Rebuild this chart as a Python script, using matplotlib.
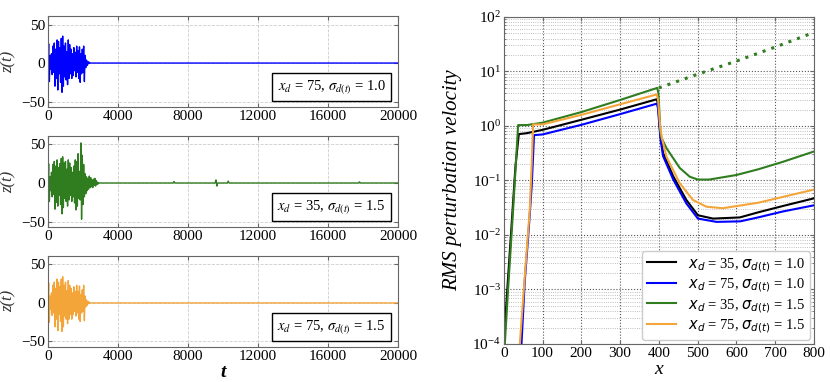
import numpy as np
import matplotlib
matplotlib.use("Agg")
import matplotlib.pyplot as plt
from matplotlib.ticker import LogLocator, NullFormatter

plt.rcParams["font.family"] = ["Liberation Serif", "DejaVu Serif"]
plt.rcParams["mathtext.fontset"] = "stix"
plt.rcParams["xtick.direction"] = "in"
plt.rcParams["ytick.direction"] = "in"
plt.rcParams["xtick.top"] = True
plt.rcParams["ytick.right"] = True

# time series, sampled every 40 time units from t = 0
dt = 40
blue_z = [0, 25, -24, 10, -8, 12, -15, 22, -12, 26, -30, 18, -20, 30, -35, 28,
          -14, 20, -25, 32, -38, 35, -30, 22, -18, 26, -22, 15, -28, 30, -20, 24,
          -14, 18, -20, 12, -16, 20, -10, 14, -18, 22, -12, 16, -20, 21, -25, 12,
          -14, 18, -12, 22, -24, 10, -6, 4, -3, 2, -1, 1, 0, 0]
green_z = [0, 25, -24, 8, -10, 14, -18, 24, -15, 28, -34, 22, -25, 30, -30, 20,
           -16, 25, -28, 32, -40, 34, -32, 26, -20, 28, -24, 18, -30, 30, -22, 26,
           -16, 20, -24, 14, -18, 22, -26, 30, -35, 28, -30, 38, -20, 15, -22, 52,
           -47, 36, -28, 24, -18, 12, -14, 8, -10, 6, -8, 9, -6, 7, -5, 4,
           -6, 5, -3, 6, -4, 3, -2, 1, -1, 0]
orange_z = [0, 26, -25, 9, -8, 13, -16, 23, -13, 27, -31, 19, -21, 31, -36, 27,
            -15, 21, -24, 31, -37, 34, -31, 23, -17, 27, -21, 16, -27, 29, -21, 23,
            -15, 19, -21, 13, -15, 21, -11, 15, -17, 23, -13, 15, -21, 22, -24, 11,
            -13, 17, -11, 23, -23, 9, -5, 4, -3, 2, -1, 1, 0, 0]
# small late blips in the green trace
green_blip_t = [7150, 7200, 7250, 9550, 9600, 9650, 9700, 10250, 10300, 10350, 17750, 17800, 17850]
green_blip_z = [0, 2, 0, 0, 4, -4, 0, 0, 2.5, 0, 0, 1.5, 0]
t_end = 20000

panel_labels = [r"$x_d$ = 75, $\sigma_{d(t)}$ = 1.0",
                r"$x_d$ = 35, $\sigma_{d(t)}$ = 1.5",
                r"$x_d$ = 75, $\sigma_{d(t)}$ = 1.5"]

# RMS curves (x, value)
black_x = [0, 10, 20, 30, 38.7, 60, 100, 200, 300, 395, 398, 404, 411, 437, 471, 501, 540, 609, 656, 720, 800]
black_y = [1e-4, 1.3e-3, 1.5e-2, 1.8e-1, 0.71, 0.74, 0.85, 1.3, 2.0, 3.1, 2.5, 0.7, 0.32, 0.12, 0.044, 0.023, 0.020, 0.021, 0.026, 0.034, 0.047]
blue_x = [45.6, 54, 64, 72, 78, 100, 200, 300, 395, 398, 404, 411, 437, 471, 501, 549, 610, 656, 720, 800]
blue_y = [1e-4, 1.4e-3, 1.2e-2, 8e-2, 0.68, 0.7, 1.05, 1.65, 2.57, 2.1, 0.6, 0.28, 0.105, 0.038, 0.02, 0.0174, 0.0178, 0.021, 0.027, 0.035]
green_x = [2.6, 11, 24, 37, 60, 100, 200, 300, 396, 399, 404, 407, 420, 454, 480, 501, 530, 600, 656, 720, 800]
green_y = [1e-4, 1e-3, 2.9e-2, 1.04, 1.04, 1.15, 1.8, 3.0, 5.0, 4.0, 0.8, 0.6, 0.39, 0.17, 0.117, 0.104, 0.104, 0.126, 0.16, 0.22, 0.34]
green_dot_x = [400, 500, 600, 700, 800]
green_dot_y = [5.0, 8.9, 15.5, 28.0, 52.0]
orange_x = [41.3, 54, 67, 72, 75.7, 100, 200, 300, 395, 398, 404, 408, 420, 454, 488, 523, 565, 656, 720, 800]
orange_y = [1e-4, 1.7e-3, 2.9e-2, 0.2, 1.07, 1.07, 1.6, 2.5, 3.8, 3.0, 0.9, 0.6, 0.27, 0.089, 0.044, 0.033, 0.031, 0.039, 0.05, 0.068]
legend_labels = [r"$x_d$ = 35, $\sigma_{d(t)}$ = 1.0",
                 r"$x_d$ = 75, $\sigma_{d(t)}$ = 1.0",
                 r"$x_d$ = 35, $\sigma_{d(t)}$ = 1.5",
                 r"$x_d$ = 75, $\sigma_{d(t)}$ = 1.5"]

c_blue = "#0000ff"
c_green = "#2f7d1f"
c_orange = "#f4a53a"
c_black = "#000000"
spine_c = "#666666"

fig = plt.figure(figsize=(8.3, 3.82), dpi=100)

series = [(blue_z, c_blue), (green_z, c_green), (orange_z, c_orange)]
bottoms = [0.720, 0.406, 0.092]
for i, ((zs, col), b) in enumerate(zip(series, bottoms)):
    ax = fig.add_axes([0.0578, b, 0.4217, 0.238])
    ts = [k * dt for k in range(len(zs))] + [t_end]
    zz = list(zs) + [0]
    if i == 1:
        pts = sorted(zip(ts + green_blip_t, zz + green_blip_z))
        ts = [p[0] for p in pts]
        zz = [p[1] for p in pts]
    ax.plot(ts, zz, color=col, lw=1.0)
    ax.set_xlim(0, 20000)
    ax.set_ylim(-57, 61)
    ax.set_xticks([0, 4000, 8000, 12000, 16000, 20000])
    ax.set_yticks([-50, 0, 50])
    ax.tick_params(labelsize=11, length=3, color=spine_c, pad=2)
    ax.grid(True, ls="--", color="#cccccc", lw=0.6)
    for s in ax.spines.values():
        s.set_color(spine_c)
    ax.set_ylabel("z(t)", fontsize=12, fontstyle="italic", color="#333333")
    ax.yaxis.set_label_coords(-0.09, 0.5)
    ax.text(0.965, 0.12, panel_labels[i], transform=ax.transAxes, ha="right", va="bottom",
            fontsize=10.5, bbox=dict(boxstyle="square,pad=0.35", fc="white", ec="black", lw=1.0))
    if i == 2:
        ax.set_xlabel("t", fontsize=14, fontstyle="italic", fontweight="bold", labelpad=1)

ax = fig.add_axes([0.607, 0.0995, 0.3735, 0.856])
ax.semilogy(black_x, black_y, color=c_black, lw=1.5, label=legend_labels[0])
ax.semilogy(blue_x, blue_y, color=c_blue, lw=1.5, label=legend_labels[1])
ax.semilogy(green_x, green_y, color=c_green, lw=1.5, label=legend_labels[2])
ax.semilogy(orange_x, orange_y, color=c_orange, lw=1.5, label=legend_labels[3])
ax.semilogy(green_dot_x, green_dot_y, color=c_green, lw=2.2, ls=(0, (1, 2)))
ax.set_xlim(0, 800)
ax.set_ylim(1e-4, 1e2)
ax.set_xticks(range(0, 801, 100))
ax.yaxis.set_minor_locator(LogLocator(base=10, subs=np.arange(2, 10), numticks=20))
ax.yaxis.set_minor_formatter(NullFormatter())
ax.tick_params(labelsize=11, length=3, color=spine_c, pad=2)
ax.tick_params(which="minor", length=1.5, color=spine_c, labelleft=False, labelbottom=False)
ax.grid(True, which="major", ls=":", color="#555555", lw=0.8)
ax.grid(True, which="minor", axis="y", ls=":", color="#aaaaaa", lw=0.6)
for s in ax.spines.values():
    s.set_color(spine_c)
ax.set_xlabel("x", fontsize=14, fontstyle="italic", labelpad=1)
ax.set_ylabel("RMS perturbation velocity", fontsize=15, fontstyle="italic")
ax.yaxis.set_label_coords(-0.135, 0.5)
ax.legend(loc="lower right", prop={"family": ["Liberation Serif"], "size": 10.5,
                                   "math_fontfamily": "dejavusans"},
          handlelength=2.0, borderpad=0.35, labelspacing=0.2, framealpha=1.0, fancybox=True,
          edgecolor="#cccccc", borderaxespad=0.25)

fig.savefig("out.png", dpi=100)
